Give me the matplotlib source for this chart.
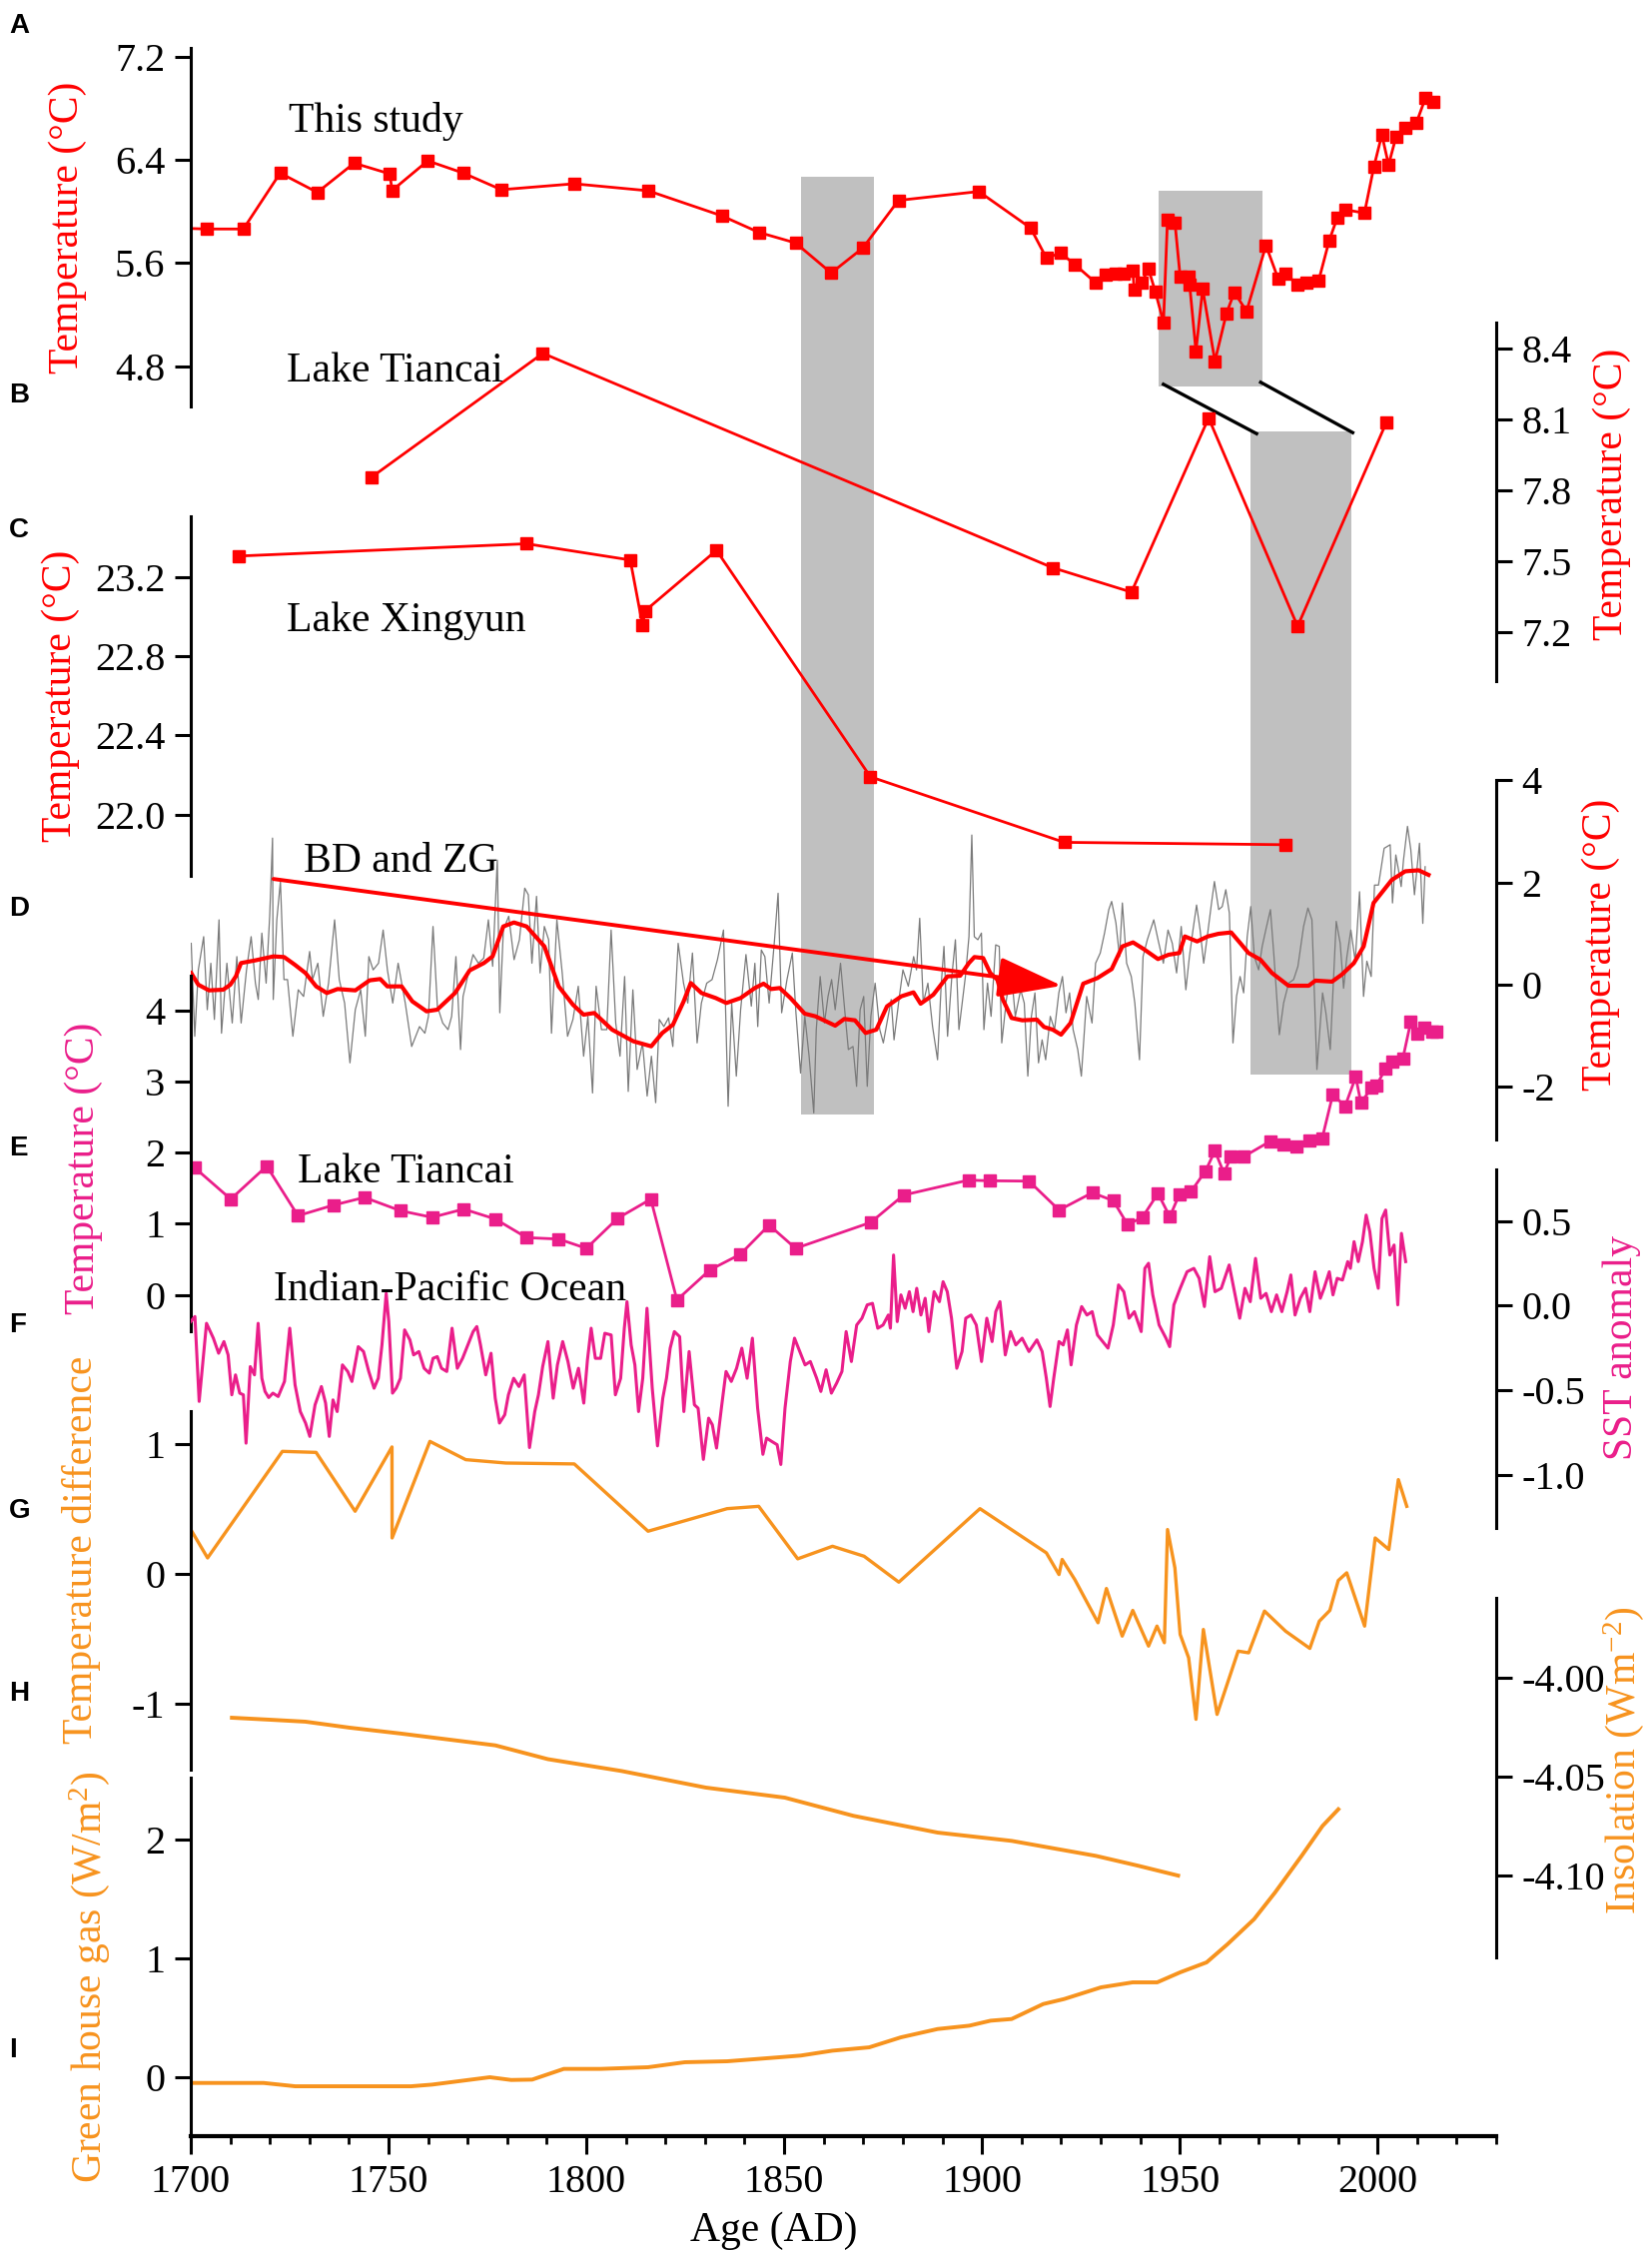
import matplotlib
matplotlib.use('Agg')
import matplotlib.pyplot as plt
from matplotlib.patches import Rectangle

SERIF = ['Liberation Serif', 'DejaVu Serif']
plt.rcParams['font.family'] = SERIF
plt.rcParams['font.serif'] = ['Liberation Serif', 'DejaVu Serif']
plt.rcParams['axes.unicode_minus'] = False
plt.rcParams['mathtext.fontset'] = 'custom'
plt.rcParams['mathtext.rm'] = 'Liberation Serif'
plt.rcParams['mathtext.it'] = 'Liberation Serif:italic'
plt.rcParams['mathtext.default'] = 'rm'

# ---------------- data ----------------
A_years = [1697, 1704.0, 1713.3, 1722.6, 1732.0, 1741.3, 1750.3, 1750.9, 1759.9, 1768.9, 1778.5, 1796.9,
           1815.6, 1834.2, 1843.6, 1852.9, 1861.9, 1869.9, 1878.9, 1899.2, 1912.3, 1916.3, 1919.9,
           1923.5, 1928.8, 1931.2, 1933.8, 1935.9, 1938.1, 1938.5, 1940.3, 1942.1, 1943.8, 1945.9,
           1946.9, 1948.8, 1950.1, 1952.3, 1952.5, 1954.1, 1955.8, 1958.9, 1961.8, 1963.8, 1966.9,
           1971.8, 1974.9, 1976.7, 1979.8, 1982.1, 1985.1, 1987.8, 1989.8, 1991.8, 1996.7, 1999.1,
           2001.1, 2002.8, 2004.7, 2007.1, 2009.8, 2012.1, 2014.0]
A_temp = [5.87, 5.863, 5.863, 6.297, 6.147, 6.374, 6.291, 6.162, 6.392, 6.297, 6.168, 6.214,
          6.16, 5.966, 5.837, 5.755, 5.522, 5.716, 6.085, 6.154, 5.871, 5.638, 5.677,
          5.587, 5.445, 5.51, 5.517, 5.52, 5.543, 5.393, 5.445, 5.553, 5.38, 5.14,
          5.935, 5.91, 5.496, 5.496, 5.432, 4.915, 5.399, 4.838, 5.207, 5.372, 5.225,
          5.736, 5.476, 5.516, 5.432, 5.45, 5.46, 5.775, 5.948, 6.013, 5.987, 6.348,
          6.594, 6.361, 6.58, 6.645, 6.684, 6.878, 6.851]

B_years = [1745.6, 1789.0, 1917.9, 1937.8, 1957.3, 1979.8, 2002.2]
B_temp = [7.854, 8.378, 7.473, 7.37, 8.105, 7.226, 8.085]

C_years = [1712.2, 1784.9, 1811.1, 1814.2, 1814.9, 1832.9, 1871.8, 1920.8, 1976.8]
C_temp = [23.306, 23.368, 23.286, 22.958, 23.03, 23.335, 22.191, 21.86, 21.848]

D_smooth_years = [1700.1, 1701.9, 1704.6, 1708.2, 1710.0, 1711.4, 1712.7, 1716.3, 1720.9, 1723.6, 1726.3,
                  1729.0, 1731.7, 1734.4, 1737.1, 1741.6, 1745.2, 1747.9, 1749.7, 1753.3, 1756.0, 1759.6,
                  1762.3, 1766.8, 1770.5, 1774.1, 1776.3, 1779.0, 1781.7, 1784.9, 1789.4, 1793.0, 1796.6,
                  1799.3, 1802.0, 1806.5, 1811.9, 1816.4, 1819.2, 1821.9, 1824.6, 1826.4, 1829.1, 1832.7,
                  1835.4, 1839.0, 1842.6, 1844.8, 1846.7, 1848.9, 1851.6, 1855.2, 1857.9, 1860.6, 1862.9,
                  1865.2, 1867.9, 1870.6, 1873.3, 1876.0, 1879.6, 1882.7, 1884.5, 1887.7, 1891.3, 1894.5,
                  1896.7, 1898.1, 1900.3, 1902.1, 1903.9, 1905.3, 1907.5, 1910.2, 1913.9, 1915.7, 1917.9,
                  1920.0, 1922.4, 1925.6, 1929.2, 1932.8, 1935.5, 1938.2, 1940.9, 1944.5, 1947.2, 1949.9,
                  1951.3, 1954.4, 1957.1, 1959.8, 1963.0, 1965.3, 1967.4, 1970.4, 1973.3, 1977.5, 1982.6,
                  1984.3, 1988.5, 1991.0, 1994.0, 1996.5, 1999.0, 2003.6, 2007.0, 2010.4, 2012.9]
D_smooth_temp = [0.228, 0.0, -0.111, -0.098, 0.0, 0.163, 0.424, 0.476, 0.554, 0.541, 0.391,
                 0.228, -0.033, -0.163, -0.085, -0.111, 0.085, 0.111, -0.033, -0.033, -0.326, -0.521,
                 -0.489, -0.163, 0.28, 0.424, 0.554, 1.14, 1.218, 1.14, 0.749, -0.033, -0.391,
                 -0.587, -0.554, -0.88, -1.108, -1.206, -0.945, -0.782, -0.326, 0.033, -0.163, -0.261,
                 -0.358, -0.261, -0.065, 0.02, -0.085, -0.065, -0.261, -0.567, -0.619, -0.717, -0.802,
                 -0.671, -0.697, -0.945, -0.88, -0.424, -0.228, -0.15, -0.372, -0.196, 0.163, 0.176,
                 0.424, 0.541, 0.522, 0.228, 0.098, -0.293, -0.652, -0.697, -0.684, -0.828, -0.88,
                 -0.978, -0.75, 0.02, 0.13, 0.306, 0.749, 0.828, 0.697, 0.502, 0.587, 0.62,
                 0.945, 0.847, 0.945, 0.997, 1.023, 0.815, 0.62, 0.49, 0.23, -0.02, -0.02,
                 0.08, 0.06, 0.2, 0.42, 0.75, 1.6, 2.05, 2.22, 2.24, 2.15]

D_gray_years = [1700.11, 1701.01, 1701.91, 1703.26, 1704.17, 1705.07, 1705.97, 1707.14, 1707.77, 1709.13,
                1710.48, 1711.65, 1712.73, 1714.09, 1715.26, 1716.34, 1717.06, 1717.97, 1719.05, 1719.95,
                1720.67, 1720.85, 1721.75, 1722.66, 1723.56, 1724.46, 1725.81, 1727.17, 1728.52, 1730.05,
                1730.77, 1732.12, 1733.48, 1734.83, 1736.36, 1737.54, 1738.89, 1740.24, 1741.59, 1742.95,
                1744.12, 1745.02, 1746.1, 1747.46, 1748.63, 1749.71, 1751.06, 1752.42, 1754.22, 1755.84,
                1757.83, 1759.18, 1760.08, 1761.24, 1762.34, 1763.69, 1765.04, 1765.95, 1767.03, 1768.2,
                1768.83, 1770.0, 1771.36, 1772.71, 1774.06, 1775.23, 1776.32, 1777.49, 1778.12, 1779.02,
                1780.38, 1781.73, 1783.08, 1784.43, 1785.33, 1786.24, 1787.41, 1788.31, 1789.38, 1790.47,
                1791.19, 1792.55, 1793.9, 1795.25, 1796.61, 1797.96, 1799.31, 1800.39, 1801.57, 1802.47,
                1803.82, 1805.17, 1806.26, 1807.43, 1808.51, 1809.68, 1810.59, 1811.76, 1812.84, 1814.2,
                1815.37, 1816.45, 1817.53, 1818.43, 1819.6, 1820.78, 1821.86, 1823.21, 1824.57, 1825.65,
                1826.82, 1828.0, 1829.08, 1830.43, 1831.78, 1833.14, 1834.67, 1835.84,
                1836.74, 1837.91, 1839.0, 1840.35, 1841.7, 1842.6, 1843.33, 1844.23, 1845.13, 1846.21,
                1847.57, 1848.47, 1849.37, 1850.72, 1852.07, 1852.98, 1854.15, 1855.23, 1856.31, 1857.49,
                1858.12, 1859.11, 1860.19, 1861.09, 1862.0, 1862.9, 1864.25, 1865.15, 1866.23, 1867.41,
                1868.31, 1869.21, 1870.11, 1871.01, 1871.92, 1873.0, 1874.17, 1875.07, 1875.97, 1877.06,
                1877.78, 1879.13, 1880.03, 1881.39, 1882.74, 1883.46, 1884.27, 1885.17, 1886.34, 1887.52,
                1888.78, 1889.68, 1890.4, 1891.31, 1892.39, 1893.29, 1894.19, 1895.82, 1896.72, 1897.44,
                1898.07, 1898.97, 1899.87, 1900.5, 1901.41, 1902.31, 1903.48, 1904.38, 1905.01, 1906.19,
                1907.36, 1908.44, 1909.79, 1910.7, 1911.6, 1912.5, 1913.4, 1914.3, 1915.21, 1916.11,
                1917.28, 1918.36, 1919.44, 1920.35, 1921.25, 1922.15, 1923.05, 1924.22, 1925.13, 1926.48,
                1927.83, 1928.73, 1929.91, 1930.99, 1932.07, 1932.79, 1933.87, 1934.78, 1935.5, 1936.58,
                1937.75, 1938.65, 1939.83, 1940.73, 1941.81, 1943.44, 1944.52, 1945.87, 1947.04, 1948.12,
                1949.21, 1950.38, 1951.55, 1952.45, 1953.35, 1954.26, 1955.16, 1956.06, 1956.96, 1958.04,
                1958.77, 1959.85, 1960.75, 1961.65, 1962.55, 1963.46, 1964.36, 1965.26, 1966.16, 1967.06,
                1967.96, 1968.87, 1969.95, 1970.85, 1971.75, 1972.93, 1973.83,
                1975.17, 1976.26, 1977.53, 1978.79, 1979.88, 1981.31, 1982.41, 1983.42, 1984.68, 1986.11,
                1986.95, 1988.05, 1989.56, 1990.57, 1991.42, 1992.26, 1993.27, 1994.36, 1995.46, 1996.47,
                1997.31, 1998.4, 1999.24, 2000.25, 2001.68, 2003.2, 2003.79, 2004.63, 2005.3, 2005.98,
                2006.57, 2007.58, 2008.42, 2009.34, 2010.61, 2011.45, 2012.04]
D_gray_temp = [0.81, -1.01, 0.29, 0.94, -0.49, 0.42, -0.68, 1.27, -0.95, 0.42,
               -0.75, 0.55, -0.75, 0.29, 0.94, 0.03, -0.29, 1.01, 0.03, 1.34,
               2.87, -0.29, 1.27, 2.02, 0.10, 0.10, -1.01, -0.10, -0.23, 0.65,
               0.10, 0.42, -0.62, 0.03, 1.27, 0.10, -0.36, -1.53, -0.49, -0.10,
               -1.01, 0.55, 0.29, 0.42, 1.07, 0.29, -0.36, 0.42, -0.36, -1.21,
               -0.82, -0.95, -0.62, 1.14, -0.42, -0.75, -0.88, -0.62, 0.55, -1.27,
               -0.23, 0.16, 0.59, 0.42, 0.52, 1.27, 0.36, 2.44, -0.55, 1.07,
               1.34, 0.49, 0.88, 1.89, 1.76, 0.42, 1.73, 0.23, 1.14, 0.88,
               -0.95, 1.27, 0.23, -1.01, -0.68, -0.03, -1.40, -0.62, -2.12, -0.03,
               -0.88, -0.88, 1.07, -0.75, -1.40, 0.16, -2.09, -0.10, -1.66, -1.14,
               -2.18, -1.40, -2.31, -0.68, -0.82, -0.65, -1.21, 0.81, 0.03, -0.36,
               0.62, -1.14, -0.36, 0.03, 0.10, 0.49, 1.07, -2.38,
               -0.36, -1.79, -0.49, 0.59, -0.42, 0.42, -0.82, 0.68, 0.55, -0.36,
               0.88, 1.79, -0.55, 0.10, 0.62, -0.55, -1.73, -0.62, -1.40, -2.51,
               -0.88, 0.16, -0.75, -0.23, 0.10, -0.49, 0.42, -0.36, -1.27, -1.21,
               -1.99, -0.49, -0.23, -1.99, -0.62, 0.03, -0.88, -1.14, -0.75, -0.29,
               -1.08, -0.23, 0.29, -0.03, 0.55, 0.29, 1.30, -0.36, 0.03, -0.82,
               -1.47, -0.03, 0.75, -1.01, 0.16, 0.88, -0.88, 0.16, 0.94, 2.93,
               0.94, 0.88, 1.01, -0.88, 0.03, -0.62, 0.78, 0.75, -1.14, -0.29,
               0.29, -0.62, -0.10, -0.36, -1.79, -0.62, -0.16, -1.53, -1.08, -1.47,
               -0.62, -0.88, -0.16, 0.16, -0.55, -0.16, -0.88, -1.27, -1.79, -0.23,
               -0.75, 0.42, 0.62, 1.01, 1.47, 1.63, 1.21, 0.55, 1.60, 0.42,
               0.16, -0.36, -1.47, 0.55, 0.88, 1.27, 0.88, 0.42, 1.07, 0.81,
               0.23, 1.14, -0.10, 0.55, 1.07, 1.56, 1.07, 0.42, 0.94, 1.60,
               2.02, 1.47, 1.53, 1.86, 1.40, -1.14, -0.23, 0.16, -0.16, 0.94,
               1.53, 0.55, 0.29, 0.75, 1.07, 1.47, 0.55,
               -0.98, -0.36, 0.03, 0.10, 0.36, 1.14, 1.50, 1.27, -1.66, -0.16,
               -0.55, -1.27, 1.24, 0.81, -0.07, 0.55, 1.07, 0.46, 1.82, -0.23,
               0.46, 0.16, 1.95, 1.95, 2.67, 2.74, 1.60, 2.54, 2.25, 1.92,
               2.44, 3.10, 2.64, 1.76, 2.77, 1.20, 2.31]

E_years = [1701.0, 1710.1, 1719.2, 1727.1, 1736.1, 1743.9, 1753.0, 1761.0, 1769.0, 1777.0, 1784.9,
           1793.0, 1800.0, 1807.9, 1816.3, 1822.9, 1831.2, 1838.9, 1846.2, 1852.9, 1871.9, 1880.2,
           1896.6, 1901.9, 1911.9, 1919.5, 1927.9, 1933.2, 1936.8, 1940.5, 1944.5, 1947.5, 1949.9,
           1952.8, 1956.5, 1958.9, 1961.2, 1962.9, 1966.1, 1972.9, 1976.1, 1979.5, 1982.9, 1986.0,
           1988.7, 1991.8, 1994.5, 1995.8, 1998.5, 1999.8, 2002.0, 2003.8, 2006.4, 2008.4, 2010.0,
           2011.8, 2013.8, 2014.8]
E_temp = [1.788, 1.347, 1.811, 1.114, 1.263, 1.371, 1.184, 1.091, 1.207, 1.067, 0.806,
          0.786, 0.655, 1.077, 1.347, -0.07, 0.351, 0.571, 0.982, 0.655, 1.02, 1.404,
          1.614, 1.605, 1.6, 1.193, 1.437, 1.325, 0.992, 1.086, 1.427, 1.1, 1.413,
          1.451, 1.74, 2.026, 1.708, 1.942, 1.942, 2.161, 2.12, 2.083, 2.167, 2.199,
          2.817, 2.653, 3.065, 2.7, 2.911, 2.947, 3.182, 3.276, 3.322, 3.837, 3.673,
          3.753, 3.705, 3.7]

F_years = [1700.0, 1701.05, 1702.12, 1703.98, 1705.71, 1707.04, 1708.38, 1709.44, 1710.37, 1711.31,
           1712.37, 1713.30, 1713.97, 1715.04, 1716.10, 1717.03, 1717.97, 1718.77, 1719.70, 1720.76,
           1722.10, 1723.69, 1725.02, 1726.36, 1727.69, 1729.02, 1730.09, 1731.42, 1733.02, 1734.08,
           1735.01, 1735.95, 1737.01, 1738.34, 1739.68, 1740.74, 1742.34, 1743.67, 1745.00, 1746.34,
           1747.40, 1748.33, 1749.40, 1750.06, 1751.00, 1751.93, 1753.00, 1754.06, 1755.39, 1756.33,
           1757.66, 1758.99, 1760.32, 1761.25, 1762.32, 1763.38, 1764.72, 1766.05, 1767.38, 1768.71,
           1770.04, 1771.38, 1772.31, 1773.24, 1774.57, 1775.90, 1776.97, 1778.04, 1779.37, 1780.30,
           1781.63, 1782.96, 1784.30, 1785.63, 1786.96, 1787.89, 1788.96, 1790.29, 1791.62, 1792.69,
           1794.02, 1795.35, 1796.68, 1798.01, 1799.35, 1800.28, 1801.21, 1802.28, 1803.61, 1804.67,
           1806.27, 1807.34, 1808.67, 1809.60, 1810.27, 1811.33, 1812.27, 1813.20, 1814.26, 1815.33,
           1816.66, 1817.99, 1819.32, 1820.26, 1821.19, 1822.25, 1823.59, 1824.65, 1825.98, 1827.32,
           1828.25, 1829.58, 1830.91, 1831.85, 1832.91, 1834.24, 1835.31, 1836.64, 1837.97, 1839.30,
           1840.64, 1841.97, 1843.30, 1844.63, 1845.56, 1846.89, 1848.23, 1849.16, 1850.22, 1851.56,
           1852.62, 1853.95, 1855.29, 1856.62, 1858.22, 1859.28, 1860.61,
           1861.94, 1863.27, 1864.61, 1865.67, 1867.00, 1868.34, 1869.67, 1871.00, 1872.33, 1873.66,
           1875.00, 1876.33, 1876.86, 1877.66, 1878.59, 1879.52, 1880.59, 1881.65, 1882.59, 1883.52,
           1884.58, 1885.65, 1886.58, 1887.91, 1889.25, 1890.18, 1891.24, 1892.31, 1893.64, 1894.97,
           1895.91, 1897.24, 1898.57, 1899.90, 1901.23, 1902.57, 1903.50, 1904.56, 1905.90, 1907.23,
           1908.56, 1910.16, 1911.89, 1913.89, 1915.22, 1916.28, 1917.22, 1918.15, 1919.48, 1920.55,
           1921.61, 1922.54, 1923.88, 1925.21, 1926.54, 1927.87, 1929.20, 1930.54, 1931.87, 1933.20,
           1934.53, 1935.86, 1937.19, 1938.53, 1940.26, 1941.19, 1942.12, 1943.19, 1944.79, 1946.52,
           1947.45, 1948.52, 1950.12, 1951.85, 1953.58, 1954.91, 1956.24, 1957.58, 1958.91, 1960.51,
           1962.50, 1963.83, 1965.17, 1966.50, 1967.83, 1969.16, 1970.49, 1971.82, 1973.16, 1974.49,
           1975.82, 1977.15, 1978.09, 1979.15, 1980.48, 1981.81, 1982.88, 1984.21, 1985.54, 1986.48,
           1987.81, 1988.74, 1989.81, 1991.14, 1992.47, 1993.14, 1994.07, 1995.13, 1996.20, 1997.13,
           1998.06, 1999.13, 2000.19, 2001.13, 2002.06, 2003.12, 2004.19, 2005.12, 2006.05, 2007.12]
F_sst = [-0.095, -0.065, -0.567, -0.105, -0.193, -0.282, -0.213, -0.292, -0.528, -0.410,
         -0.518, -0.528, -0.814, -0.361, -0.410, -0.105, -0.430, -0.508, -0.544, -0.518,
         -0.538, -0.449, -0.134, -0.469, -0.627, -0.695, -0.774, -0.587, -0.479, -0.577,
         -0.774, -0.558, -0.627, -0.351, -0.390, -0.449, -0.243, -0.272, -0.390, -0.489,
         -0.430, -0.233, 0.072, -0.095, -0.518, -0.489, -0.430, -0.144, -0.203, -0.292,
         -0.272, -0.371, -0.400, -0.312, -0.302, -0.371, -0.390, -0.134, -0.371, -0.312,
         -0.233, -0.154, -0.124, -0.233, -0.410, -0.282, -0.548, -0.695, -0.646, -0.528,
         -0.430, -0.479, -0.410, -0.840, -0.627, -0.528, -0.361, -0.213, -0.548, -0.351,
         -0.213, -0.331, -0.489, -0.371, -0.577, -0.321, -0.134, -0.312, -0.312, -0.164,
         -0.174, -0.528, -0.430, -0.134, 0.023, -0.233, -0.351, -0.627, -0.430, -0.016,
         -0.489, -0.830, -0.548, -0.430, -0.252, -0.154, -0.184, -0.627, -0.272, -0.587,
         -0.607, -0.910, -0.666, -0.705, -0.843, -0.587, -0.390, -0.449, -0.371, -0.252,
         -0.430, -0.193, -0.607, -0.880, -0.784, -0.804, -0.823, -0.940, -0.607, -0.331,
         -0.193, -0.272, -0.351, -0.331, -0.430, -0.508, -0.380,
         -0.518, -0.459, -0.390, -0.154, -0.331, -0.115, -0.075, 0.004, 0.013, -0.134,
         -0.115, -0.056, -0.134, 0.299, -0.095, 0.063, -0.016, 0.082, -0.036, 0.102,
         -0.056, 0.043, -0.154, 0.082, 0.023, 0.141, 0.082, -0.075, -0.371, -0.272,
         -0.075, -0.056, -0.115, -0.331, -0.075, -0.213, -0.036, 0.023, -0.292, -0.154,
         -0.233, -0.193, -0.272, -0.203, -0.272, -0.430, -0.597, -0.430, -0.213, -0.233,
         -0.144, -0.351, -0.115, -0.006, -0.056, -0.036, -0.174, -0.213, -0.252, -0.115,
         0.122, 0.082, -0.075, -0.036, -0.154, 0.220, 0.250, 0.063, -0.115, -0.193,
         -0.243, 0.004, 0.102, 0.200, 0.220, 0.161, -0.006, 0.289, 0.082, 0.102,
         0.240, 0.082, -0.075, 0.102, 0.023, 0.279, 0.043, 0.072, -0.036, 0.063,
         -0.036, 0.082, 0.181, -0.056, 0.043, 0.102, -0.036, 0.200, 0.043, 0.102,
         0.200, 0.063, 0.161, 0.151, 0.260, 0.220, 0.378, 0.260, 0.378, 0.535,
         0.437, 0.220, 0.102, 0.515, 0.565, 0.299, 0.358, 0.004, 0.427, 0.260]

G_years = [1700.0, 1704.25, 1723.16, 1731.68, 1741.54, 1750.86, 1750.9, 1760.45, 1769.51, 1779.63,
           1796.95, 1815.6, 1835.58, 1843.57, 1853.43, 1862.22, 1870.21, 1878.99, 1899.5, 1916.29,
           1919.48, 1920.28, 1923.48, 1929.34, 1931.47, 1935.46, 1938.13, 1942.12, 1944.25, 1946.12,
           1946.92, 1948.78, 1950.11, 1952.25, 1954.11, 1955.98, 1959.44, 1964.77, 1967.43, 1971.43,
           1976.76, 1982.89, 1985.29, 1987.95, 1990.08, 1992.22, 1996.74, 1999.41, 2002.87, 2005.27,
           2007.4]
G_diff = [0.34, 0.121, 0.943, 0.935, 0.481, 0.977, 0.275, 1.02, 0.879, 0.853,
          0.846, 0.327, 0.501, 0.519, 0.114, 0.211, 0.134, -0.066, 0.501, 0.16,
          -0.007, 0.109, -0.046, -0.379, -0.115, -0.482, -0.284, -0.559, -0.405, -0.533,
          0.34, 0.044, -0.469, -0.649, -1.124, -0.431, -1.086, -0.598, -0.611, -0.289,
          -0.444, -0.577, -0.367, -0.284, -0.053, 0.006, -0.405, 0.275, 0.186, 0.725,
          0.519]

H_years = [1710.4, 1720.0, 1729.0, 1740.0, 1753.0, 1769.0, 1777.0, 1790.3, 1808.9, 1830.2, 1850.2,
           1867.5, 1888.8, 1907.5, 1928.8, 1939.5, 1949.6]
H_insol = [-4.020, -4.021, -4.022, -4.025, -4.028, -4.032, -4.034, -4.041, -4.047, -4.0554, -4.0605,
           -4.0697, -4.0782, -4.0824, -4.090, -4.095, -4.100]

I_years = [1700.5, 1718.4, 1726.4, 1755.7, 1761.0, 1769.0, 1775.6, 1781.0, 1786.3, 1794.3, 1803.6,
           1815.6, 1824.9, 1835.6, 1848.9, 1854.2, 1862.2, 1871.5, 1879.5, 1888.8, 1896.8, 1902.2,
           1907.5, 1915.5, 1920.8, 1930.1, 1938.1, 1944.3, 1950.1, 1956.8, 1962.1, 1968.8, 1974.1,
           1980.8, 1986.1, 1990.1]
I_ghg = [-0.048, -0.048, -0.076, -0.076, -0.062, -0.028, 0.0, -0.023, -0.02, 0.07, 0.07,
         0.084, 0.126, 0.134, 0.168, 0.182, 0.223, 0.251, 0.335, 0.405, 0.433, 0.475,
         0.489, 0.615, 0.657, 0.755, 0.797, 0.797, 0.881, 0.965, 1.118, 1.328, 1.552,
         1.859, 2.111, 2.251]

# highlighted intervals (years) and the D-panel trend arrow
shade_intervals = [(1854.3, 1872.7), (1944.7, 1970.9), (1967.8, 1993.5)]
arrow_start = (1720.9, 2.07)
arrow_end = (1920.2, -0.02)

# ---------------- layout ----------------
W, H = 1654, 2254
fig = plt.figure(figsize=(W / 100, H / 100), dpi=100)
X0, X1 = 191, 1498
XLIM = (1700, 2030)

RED = '#ff0000'
MAG = '#ea1e8a'
ORA = '#f7931e'
FS_TICK = 29
FS_LAB = 30


def fx(x):
    return x / W


def fy(y):
    return 1 - y / H


# background axis for shaded bands (pixel y)
bg = fig.add_axes([fx(X0), 0, (X1 - X0) / W, 1])
bg.set_xlim(*XLIM)
bg.set_ylim(H, 0)
bg.axis('off')
shade_px = [(177, 1116), (191, 387), (432, 1076)]
for (x0, x1), (t, b) in zip(shade_intervals, shade_px):
    bg.add_patch(Rectangle((x0, t), x1 - x0, b - t, color='#c0c0c0', lw=0))
bg.plot([1945.5, 1969.8], [384, 435], color='black', lw=2.4, solid_capstyle='butt')
bg.plot([1970.1, 1994.1], [382, 434], color='black', lw=2.4, solid_capstyle='butt')


def panel(top, bottom, ref_px, ref_val, px_per_unit, side, ticks, labels):
    ax = fig.add_axes([fx(X0), fy(bottom), (X1 - X0) / W, (bottom - top) / H])
    ax.patch.set_alpha(0)
    ax.set_xlim(*XLIM)
    ax.set_ylim(ref_val - (bottom - ref_px) / px_per_unit, ref_val + (ref_px - top) / px_per_unit)
    for s in ['left', 'right', 'top', 'bottom']:
        ax.spines[s].set_visible(s == side)
        ax.spines[s].set_linewidth(2.2)
    ax.xaxis.set_visible(False)
    ax.yaxis.set_ticks_position(side)
    ax.set_yticks(ticks)
    ax.set_yticklabels(labels, fontfamily=SERIF, fontsize=FS_TICK)
    ax.tick_params(axis='y', direction='out', length=11.5, width=2.2, labelsize=FS_TICK, pad=7)
    return ax


# A
axA = panel(48, 407, 56.7, 7.2, 129.1, 'left', [4.8, 5.6, 6.4, 7.2], ['4.8', '5.6', '6.4', '7.2'])
axA.plot(A_years, A_temp, '-s', color=RED, lw=2, ms=9)
# B
axB = panel(323, 682, 633.3, 7.2, 237.3, 'right', [7.2, 7.5, 7.8, 8.1, 8.4],
            ['7.2', '7.5', '7.8', '8.1', '8.4'])
axB.plot(B_years, B_temp, '-s', color=RED, lw=2, ms=9)
# C
axC = panel(517, 877, 815.7, 22.0, 198.25, 'left', [22.0, 22.4, 22.8, 23.2],
            ['22.0', '22.4', '22.8', '23.2'])
axC.plot(C_years, C_temp, '-s', color=RED, lw=2, ms=9)
# D
axD = panel(781, 1141, 986, 0.0, 51.15, 'right', [-2, 0, 2, 4], ['-2', '0', '2', '4'])
axD.plot(D_gray_years, D_gray_temp, '-', color='#7a7a7a', lw=0.9)
axD.plot(D_smooth_years, D_smooth_temp, '-', color=RED, lw=3)
axD.annotate('', xy=arrow_end, xytext=arrow_start,
             arrowprops=dict(arrowstyle='-|>,head_length=1.6,head_width=0.5', color=RED, lw=2.8,
                             mutation_scale=25, shrinkA=0, shrinkB=0))
# E
axE = panel(977, 1333, 1296.7, 0.0, 71.25, 'left', [0, 1, 2, 3, 4], ['0', '1', '2', '3', '4'])
axE.plot(E_years, E_temp, '-s', color=MAG, lw=2, ms=9)
# F
axF = panel(1171, 1530, 1307.3, 0.0, 169.3, 'right', [-1.0, -0.5, 0.0, 0.5],
            ['-1.0', '-0.5', '0.0', '0.5'])
axF.plot(F_years, F_sst, '-', color=MAG, lw=2.2)
# G
axG = panel(1413, 1772, 1575.7, 0.0, 129.8, 'left', [-1, 0, 1], ['-1', '0', '1'])
axG.plot(G_years, G_diff, '-', color=ORA, lw=2.4)
# H
axH = panel(1600, 1960, 1680.5, -4.0, 1976.0, 'right', [-4.10, -4.05, -4.00],
            ['-4.10', '-4.05', '-4.00'])
axH.plot(H_years, H_insol, '-', color=ORA, lw=2.8)
# I
axI = panel(1780, 2139, 2080, 0.0, 119.2, 'left', [0, 1, 2], ['0', '1', '2'])
axI.plot(I_years, I_ghg, '-', color=ORA, lw=2.8)
axI.xaxis.set_visible(True)
axI.spines['bottom'].set_visible(True)
axI.spines['bottom'].set_linewidth(3)
axI.set_xticks([1700, 1750, 1800, 1850, 1900, 1950, 2000])
axI.set_xticklabels(['1700', '1750', '1800', '1850', '1900', '1950', '2000'],
                    fontfamily=SERIF, fontsize=FS_TICK)
axI.set_xticks(list(range(1700, 2031, 10)), minor=True)
axI.tick_params(axis='x', which='major', direction='out', length=13, width=2.2, labelsize=FS_TICK, pad=7)
axI.tick_params(axis='x', which='minor', direction='out', length=6, width=2.0)

# ---------------- texts ----------------
def ftxt(x, y, s, **kw):
    kw.setdefault('family', SERIF)
    fig.text(fx(x), fy(y), s, **kw)

ftxt(289, 132, 'This study', fontsize=FS_LAB, va='baseline')
ftxt(287, 382, 'Lake Tiancai', fontsize=FS_LAB, va='baseline')
ftxt(287, 632, 'Lake Xingyun', fontsize=FS_LAB, va='baseline')
ftxt(304, 873, 'BD and ZG', fontsize=FS_LAB, va='baseline')
ftxt(298, 1184, 'Lake Tiancai', fontsize=FS_LAB, va='baseline')
ftxt(274, 1302, 'Indian-Pacific Ocean', fontsize=FS_LAB, va='baseline')

ylab = dict(rotation=90, ha='center', va='center', fontsize=FS_LAB)
ftxt(68, 228, 'Temperature (°C)', color=RED, **ylab)
ftxt(1614, 495, 'Temperature (°C)', color=RED, **ylab)
ftxt(61, 697, 'Temperature (°C)', color=RED, **ylab)
ftxt(1603, 946, 'Temperature (°C)', color=RED, **ylab)
ftxt(84, 1170, 'Temperature (°C)', color=MAG, **ylab)
ftxt(1624, 1350, 'SST anomaly', color=MAG, **ylab)
ftxt(82, 1552, 'Temperature difference', color=ORA, **ylab)
ftxt(1626, 1763, 'Insolation (Wm$^{-2}$)', color=ORA, **ylab)
ftxt(90, 1980, 'Green house gas (W/m$^{2}$)', color=ORA, **ylab)

ftxt(775, 2253, 'Age (AD)', fontsize=FS_LAB, ha='center', va='bottom')

letters = [('A', 13), ('B', 383), ('C', 518), ('D', 897), ('E', 1137), ('F', 1314), ('G', 1500),
           ('H', 1683), ('I', 2040)]
for L, y in letters:
    ftxt(9, y, L, fontsize=20, fontweight='bold', family=['Liberation Sans', 'DejaVu Sans'], va='top')

fig.savefig('out.png', dpi=100)
